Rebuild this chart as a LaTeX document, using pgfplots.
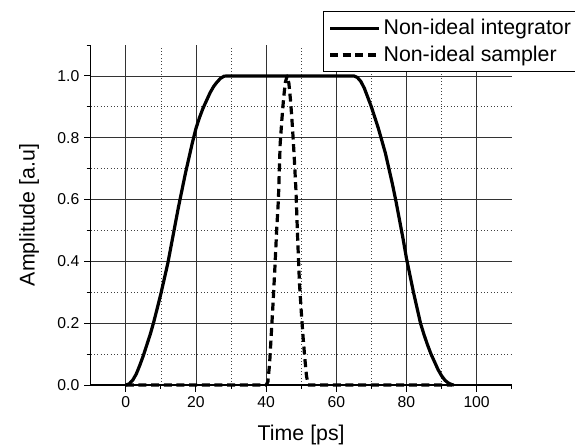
\documentclass[border=0pt]{standalone}
\usepackage{fontspec}
\setmainfont{Liberation Sans}
\usepackage{pgfplots}
\pgfplotsset{compat=1.18}
\begin{document}
\begin{tikzpicture}
\begin{axis}[
  at={(68.03pt,45.75pt)}, anchor=south west,
  scale only axis, width=315.75pt, height=255pt,
  xmin=-10, xmax=110, ymin=0, ymax=1.1,
  axis lines=left, axis line style={-, line width=0.8pt},
  xtick={0,20,...,100}, ytick={0,0.2,...,1.0},
  minor xtick={10,30,50,70,90}, minor ytick={0.1,0.3,0.5,0.7,0.9},
  extra y ticks={1.1}, extra x ticks={110},
  extra tick style={grid=none, major tick length=3pt, yticklabels={}, xticklabels={}},
  tick align=outside,
  major tick length=5pt, minor tick length=3pt,
  tick style={black, line width=0.7pt},
  grid=both,
  major grid style={black!80, line width=0.6pt},
  minor grid style={black!75, line width=0.5pt, dotted},
  yticklabel style={/pgf/number format/fixed, /pgf/number format/fixed zerofill, /pgf/number format/precision=1},
  /pgf/number format/assume math mode=true,
  ticklabel style={font=\fontsize{11.8}{14}\selectfont},
  xlabel={Time [ps]}, ylabel={Amplitude [a.u]},
  label style={font=\fontsize{16}{19}\selectfont},
  xlabel style={yshift=2pt},
  ylabel style={yshift=-1pt},
  legend style={at={(0.551,1.1)}, anchor=north west, draw=black, line width=0.6pt,
    font=\fontsize{16}{19}\selectfont, inner xsep=4pt, inner ysep=4pt, row sep=3pt, fill=white},
  legend cell align=left,
  legend image code/.code={\draw[#1] (0pt,0pt) -- (37pt,0pt);},
  clip=false,
]
\addplot[black, line width=2.4pt, line join=round] coordinates {
(0,0) (1,0.004) (2,0.016) (3,0.036) (4,0.064) (5,0.095) (6,0.13) (7,0.165) (8,0.205) (9,0.25) (10,0.295) (11,0.345) (12,0.395) (13,0.455) (14,0.515) (15,0.575) (16,0.63) (17,0.685) (18,0.735) (19,0.785) (20,0.83) (21,0.865) (22,0.895) (23,0.92) (24,0.945) (25,0.965) (26,0.98) (27,0.992) (28,0.999) (29,1)
(65,1) (66,0.995) (67,0.982) (68,0.96) (69,0.93) (70,0.9) (71,0.865) (72,0.83) (73,0.79) (74,0.75) (75,0.7) (76,0.65) (77,0.595) (78,0.535) (79,0.475) (80,0.41) (81,0.355) (82,0.3) (83,0.25) (84,0.2) (85,0.163) (86,0.13) (87,0.1) (88,0.075) (89,0.05) (90,0.03) (91,0.015) (92,0.006) (93,0.001) (93.5,0)
};
\addlegendentry{Non-ideal integrator}
\addplot[black, line width=2.4pt, dash pattern=on 6pt off 3.5pt, line join=round] coordinates {
(0,0) (40,0) (40.5,0.01) (41,0.07) (41.5,0.17) (42,0.27) (42.5,0.38) (43,0.5) (43.5,0.6) (44,0.78) (44.5,0.86) (45,0.93) (45.5,0.98) (46,1.0) (46.5,0.975) (47,0.915) (47.5,0.835) (48,0.74) (48.5,0.63) (49,0.47) (49.5,0.33) (50,0.24) (50.5,0.16) (51,0.09) (51.5,0.03) (52,0) (93,0)
};
\addlegendentry{Non-ideal sampler}
\end{axis}
\pgfresetboundingbox
\path[use as bounding box] (0pt,0pt) rectangle (431.25pt,334.5pt);
\end{tikzpicture}
\end{document}
